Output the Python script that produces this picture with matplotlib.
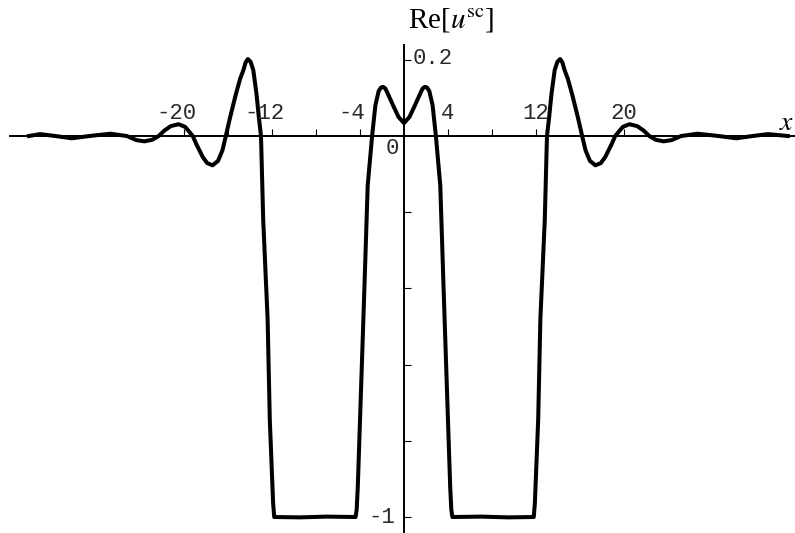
import numpy as np
import matplotlib.pyplot as plt

plt.rcParams['mathtext.fontset'] = 'stix'

# Re[u^sc] along x
x = [-34.1, -33.1, -31.7, -30.2, -28.6, -26.7, -25.2, -24.3, -23.6, -22.9,
     -22.3, -21.8, -21.2, -20.5, -19.9, -19.2, -18.9, -18.3, -17.9, -17.4,
     -16.9, -16.5, -16.2, -15.8, -15.3, -14.9, -14.6, -14.4, -14.2, -13.95,
     -13.7, -13.4, -13.2, -13.0, -12.8, -12.4, -12.2, -11.9, -11.8, -9.5,
     -7.0, -4.4, -4.3, -4.2, -3.9, -3.6, -3.3, -2.9, -2.6, -2.3,
     -2.1, -1.9, -1.7, -1.5, -1.0, -0.5, 0.0,
     0.5, 1.0, 1.5, 1.7, 1.9, 2.1, 2.3, 2.6, 2.9, 3.3,
     3.6, 3.9, 4.2, 4.3, 4.4, 7.0, 9.5, 11.8, 11.9, 12.2,
     12.4, 12.8, 13.0, 13.2, 13.4, 13.7, 13.95, 14.2, 14.4, 14.6,
     14.9, 15.3, 15.8, 16.2, 16.5, 16.9, 17.4, 17.9, 18.3, 18.9,
     19.2, 19.9, 20.5, 21.2, 21.8, 22.3, 22.9, 23.6, 24.3, 25.2,
     26.7, 28.6, 30.2, 31.7, 33.1, 34.9]
u = [0.0, 0.005, 0.0, -0.006, 0.0, 0.006, 0.0, -0.011, -0.014, -0.01,
     0.0, 0.014, 0.026, 0.031, 0.024, 0.0, -0.02, -0.055, -0.071, -0.077,
     -0.065, -0.037, 0.0, 0.05, 0.108, 0.15, 0.173, 0.193, 0.202, 0.195,
     0.173, 0.108, 0.05, 0.0, -0.22, -0.48, -0.745, -0.963, -1.0, -1.001,
     -0.999, -1.0, -0.98, -0.92, -0.66, -0.40, -0.13, 0.0, 0.081, 0.118,
     0.127, 0.129, 0.125, 0.113, 0.081, 0.05, 0.034,
     0.05, 0.081, 0.113, 0.125, 0.129, 0.127, 0.118, 0.081, 0.0, -0.13,
     -0.40, -0.66, -0.92, -0.98, -1.0, -0.999, -1.001, -1.0, -0.963, -0.745,
     -0.48, -0.22, 0.0, 0.05, 0.108, 0.173, 0.195, 0.202, 0.193, 0.173,
     0.15, 0.108, 0.05, 0.0, -0.037, -0.065, -0.077, -0.071, -0.055, -0.02,
     0.0, 0.024, 0.031, 0.026, 0.014, 0.0, -0.01, -0.014, -0.011, 0.0,
     0.006, 0.0, -0.006, 0.0, 0.005, 0.0]

xticks = [-20, -16, -12, -8, -4, 4, 8, 12, 16, 20]
xlabels = {-20: '-20', -12: '-12', -4: '-4', 4: '4', 12: '12', 20: '20'}
yticks = [0.2, -0.2, -0.4, -0.6, -0.8, -1.0]

fig = plt.figure(figsize=(7.95, 5.33), dpi=100)
ax = fig.add_axes([0, 0, 1, 1])
ax.set_xlim(-36.73, 35.55)
ax.set_ylim(-1.042, 0.357)

ax.plot(x, u, color='black', lw=2.9, solid_joinstyle='round')

for s in ['top', 'right']:
    ax.spines[s].set_visible(False)
ax.spines['bottom'].set_position('zero')
ax.spines['left'].set_position('zero')
ax.spines['bottom'].set_bounds(-35.8, 36)
ax.spines['left'].set_bounds(-1.04, 0.239)
ax.spines['bottom'].set_linewidth(1.4)
ax.spines['left'].set_linewidth(1.4)

ax.set_xticks(xticks)
ax.set_yticks(yticks)
ax.tick_params(direction='in', length=5, width=0.8, labelbottom=False, labelleft=False)

mono = dict(family='Liberation Mono', fontsize=16, color='#2a2a2a')
for xv, lab in xlabels.items():
    dx = -8 if xv < 0 else 0
    ax.annotate(lab, (xv, 0), xytext=(dx, 23), textcoords='offset pixels',
                ha='center', va='center', **mono)
ax.annotate('0', (0, 0), xytext=(-12, -12), textcoords='offset pixels',
            ha='center', va='center', **mono)
ax.annotate('0.2', (0, 0.2), xytext=(9, 1), textcoords='offset pixels',
            ha='left', va='center', **mono)
ax.annotate('-1', (0, -1.0), xytext=(-9, -1), textcoords='offset pixels',
            ha='right', va='center', **mono)

ax.text(0.36, 0.304, r'Re[$u^{\mathrm{sc}}$]', family='Liberation Serif',
        fontsize=21, ha='left', va='center')
ax.text(34.1, 0.037, r'$x$', fontsize=20, ha='left', va='center')

fig.savefig('out.png', dpi=100)
